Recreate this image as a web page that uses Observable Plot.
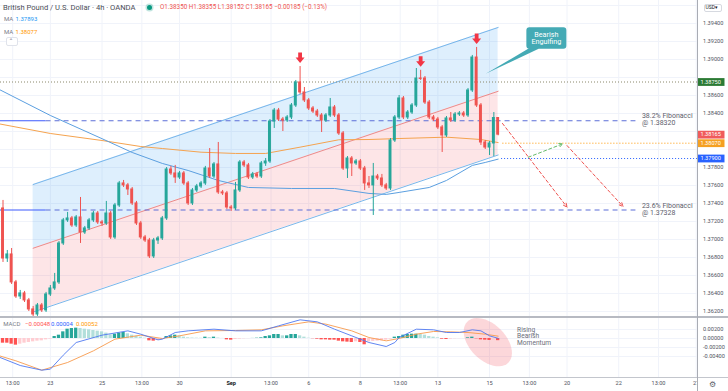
<!DOCTYPE html>
<html>
<head>
<meta charset="utf-8">
<script src="https://cdn.jsdelivr.net/npm/d3@7"></script>
<script src="https://cdn.jsdelivr.net/npm/@observablehq/plot@0.6"></script>
<style>
  html, body { margin: 0; padding: 0; background: #ffffff; }
  #chart { position: relative; width: 728px; height: 391px; overflow: hidden; background: #ffffff;
           font-family: Roboto, "Liberation Sans", sans-serif; }
  #chart svg { position: absolute; left: 0; }
  .t { position: absolute; white-space: nowrap; line-height: 1; }
</style>
</head>
<body>
<div id="chart"></div>
<script>
// ================= DATA =================
const symbolName = "British Pound / U.S. Dollar · 4h · OANDA";
const tradingDays = ["Aug 19","Aug 20","Aug 23","Aug 24","Aug 25","Aug 26","Aug 27","Aug 30","Aug 31",
  "Sep 1","Sep 2","Sep 3","Sep 6","Sep 7","Sep 8","Sep 9","Sep 10","Sep 13","Sep 14","Sep 15",
  "Sep 16","Sep 17","Sep 20","Sep 21","Sep 22","Sep 23","Sep 24","Sep 27"];
// 4h candles, index k = 1.. (k = 0 is Aug 19 00:00)
const open = [
1.37345,1.36789,1.36834,1.36523,1.36367,1.36401,1.36323,1.36223,1.36167,1.36267,
1.36212,1.36389,1.36456,1.36523,1.36956,1.37212,1.37234,1.37156,1.37245,1.37078,
1.37123,1.37212,1.37289,1.37190,1.37178,1.37289,1.37023,1.37378,1.37623,1.37601,
1.37556,1.37401,1.37178,1.37023,1.36989,1.36812,1.36989,1.37012,1.37234,1.37778,
1.37734,1.37689,1.37734,1.37623,1.37401,1.37545,1.37589,1.37623,1.37789,1.37700,
1.37834,1.37523,1.37512,1.37356,1.37345,1.37545,1.37856,1.37823,1.37689,1.37723,
1.37700,1.37845,1.37867,1.38311,1.38433,1.38333,1.38322,1.38356,1.38489,1.38745,
1.38634,1.38545,1.38456,1.38422,1.38378,1.38322,1.38378,1.38467,1.38378,1.38178,
1.37789,1.37900,1.37845,1.37867,1.37789,1.37623,1.37601,1.37700,1.37678,1.37601,
1.37567,1.38100,1.38356,1.38567,1.38356,1.38411,1.38489,1.38789,1.38789,1.38522,
1.38356,1.38333,1.38245,1.38156,1.38345,1.38322,1.38389,1.38400,1.38378,1.38656,
1.39022,1.38489,1.38078,1.38022,1.38067,1.38350];
const high = [
1.37434,1.36878,1.36900,1.36545,1.36434,1.36423,1.36345,1.36256,1.36289,1.36289,
1.36412,1.36489,1.36623,1.36978,1.37234,1.37301,1.37256,1.37267,1.37467,1.37145,
1.37234,1.37312,1.37312,1.37212,1.37423,1.37312,1.37401,1.37645,1.37656,1.37623,
1.37578,1.37423,1.37201,1.37045,1.37012,1.37012,1.37034,1.37256,1.37800,1.37812,
1.37823,1.37756,1.37756,1.37645,1.37567,1.37612,1.37645,1.37812,1.38011,1.37856,
1.38078,1.37545,1.37534,1.37378,1.37634,1.37878,1.37878,1.37845,1.37745,1.37745,
1.37867,1.37900,1.38333,1.38456,1.38456,1.38356,1.38378,1.38511,1.38767,1.38922,
1.38689,1.38567,1.38478,1.38445,1.38400,1.38400,1.38567,1.38489,1.38400,1.38200,
1.37922,1.37922,1.37889,1.37889,1.37812,1.37700,1.37845,1.37723,1.37723,1.37623,
1.38122,1.38378,1.38600,1.38589,1.38433,1.38511,1.38900,1.38880,1.38811,1.38545,
1.38378,1.38356,1.38267,1.38367,1.38411,1.38411,1.38422,1.38422,1.38678,1.39045,
1.39134,1.38511,1.38100,1.38089,1.38411,1.38355];
const low = [
1.36745,1.36745,1.36500,1.36345,1.36334,1.36300,1.36200,1.36134,1.36145,1.36189,
1.36189,1.36367,1.36434,1.36500,1.36934,1.37190,1.37134,1.37134,1.36956,1.37056,
1.37101,1.37190,1.37167,1.37145,1.37156,1.37001,1.37001,1.37356,1.37578,1.37489,
1.37378,1.37156,1.37001,1.36967,1.36789,1.36789,1.36945,1.36989,1.37212,1.37712,
1.37623,1.37667,1.37601,1.37378,1.37378,1.37523,1.37567,1.37601,1.37678,1.37678,
1.37501,1.37489,1.37334,1.37312,1.37323,1.37523,1.37800,1.37667,1.37667,1.37678,
1.37678,1.37812,1.37845,1.38234,1.38311,1.38200,1.38300,1.38333,1.38467,1.38611,
1.38522,1.38433,1.38400,1.38356,1.38189,1.38300,1.38356,1.38356,1.38156,1.37767,
1.37678,1.37700,1.37823,1.37767,1.37545,1.37567,1.37267,1.37656,1.37578,1.37545,
1.37545,1.38078,1.38333,1.38333,1.38333,1.38389,1.38467,1.38767,1.38500,1.38333,
1.38311,1.38222,1.37967,1.38134,1.38300,1.38300,1.38367,1.38356,1.38356,1.38634,
1.38467,1.38045,1.38000,1.37933,1.37922,1.38152];
const close = [
1.36789,1.36834,1.36523,1.36367,1.36401,1.36323,1.36223,1.36167,1.36267,1.36212,
1.36389,1.36456,1.36523,1.36956,1.37212,1.37234,1.37156,1.37245,1.37078,1.37123,
1.37212,1.37289,1.37190,1.37178,1.37289,1.37023,1.37378,1.37623,1.37601,1.37556,
1.37401,1.37178,1.37023,1.36989,1.36812,1.36989,1.37012,1.37234,1.37778,1.37734,
1.37689,1.37734,1.37623,1.37401,1.37545,1.37589,1.37623,1.37789,1.37700,1.37834,
1.37523,1.37512,1.37356,1.37345,1.37545,1.37856,1.37823,1.37689,1.37723,1.37700,
1.37845,1.37867,1.38311,1.38433,1.38333,1.38322,1.38356,1.38489,1.38745,1.38634,
1.38545,1.38456,1.38422,1.38378,1.38322,1.38378,1.38467,1.38378,1.38178,1.37789,
1.37900,1.37845,1.37867,1.37789,1.37623,1.37601,1.37700,1.37678,1.37601,1.37567,
1.38100,1.38356,1.38567,1.38356,1.38411,1.38489,1.38789,1.38784,1.38522,1.38356,
1.38333,1.38245,1.38156,1.38345,1.38322,1.38389,1.38400,1.38378,1.38656,1.39022,
1.38489,1.38078,1.38022,1.38067,1.38350,1.38165];

// moving averages (sampled at candle index)
const maBlueK = [0, 12, 24, 31, 38, 44, 51, 58, 68, 78, 86, 90, 93, 100, 104, 110, 113, 116];
const maBlueV = [1.38670,1.38378,1.38120,1.37967,1.37845,1.37767,1.37656,1.37578,1.37567,1.37567,1.37512,1.37501,1.37523,1.37578,1.37656,1.37823,1.37856,1.37893];
const maOrangeK = [0, 12, 24, 33, 38, 47, 55, 62, 70, 79, 86, 93, 104, 112, 116];
const maOrangeV = [1.38286,1.38178,1.38100,1.38033,1.38011,1.37970,1.37956,1.37956,1.38026,1.38108,1.38111,1.38122,1.38137,1.38111,1.38077];

// ascending channel (start/end)
const channelK = [8, 116];
const channelUpper = [1.37611, 1.39356];
const channelMid = [1.36903, 1.38647];
const channelLower = [1.36194, 1.37939];

// levels
const resistanceLevel = 1.38750;
const fibPct = ["38.2%", "23.6%"];
const fibLevels = [1.38320, 1.37328];
const tagPrices = [1.38750, 1.38165, 1.38070, 1.37900];
const orangeLevel = 1.38070;
const blueLevel = 1.37900;
const peakCandles = [70, 98, 111];

// projections (candle index, price)
const projK1 = [117, 123, 132];
const projP1 = [1.38290, 1.37914, 1.38044];
const projK2 = [132, 131, 145];
const projP2 = [1.37360, 1.38063, 1.37367];
const projDir = ["down", "up", "down"];

// MACD
const hist = [
-0.00104,-0.00104,-0.00126,-0.00148,-0.00126,-0.00104,-0.00089,-0.00074,-0.00059,-0.00052,-0.00030,-0.00015,
0.00044,0.00074,0.00148,0.00207,0.00222,0.00230,0.00222,0.00207,0.00193,0.00178,0.00163,0.00148,
0.00119,0.00081,0.00096,0.00119,0.00133,0.00104,0.00074,0.00052,0.00030,0.00007,
-0.00052,-0.00059,-0.00044,-0.00015,0.00044,0.00059,0.00074,0.00059,0.00030,
0.00015,0.00010,0.00007,0.00005,0.00030,0.00020,0.00030,0.00010,0.00002,
-0.00030,-0.00037,-0.00022,-0.00015,-0.00007,-0.00003,0.00002,0.00007,0.00015,
0.00044,0.00059,0.00089,0.00089,0.00059,0.00059,0.00089,0.00089,0.00059,0.00030,0.00007,
-0.00005,-0.00015,-0.00030,-0.00030,-0.00037,-0.00037,-0.00059,-0.00074,-0.00081,-0.00089,-0.00074,-0.00089,-0.00140,
-0.00074,-0.00067,-0.00059,-0.00052,-0.00037,-0.00015,
0.00030,0.00044,0.00074,0.00089,0.00096,0.00096,0.00089,0.00074,0.00044,0.00030,0.00015,
-0.00015,-0.00022,-0.00015,-0.00007,-0.00004,-0.00002,
0.00015,0.00030,
-0.00007,-0.00030,-0.00037,-0.00044,-0.00040,-0.00048];
const macdK = [0, 5, 10, 12, 15, 18, 24, 30, 33, 37, 38, 41, 44, 50, 55, 61, 65, 70, 74, 78, 82, 86, 90, 92, 93, 97, 101, 104, 107, 110, 112, 114, 116];
const macdV = [-0.00410,-0.00600,-0.00704,-0.00681,-0.00370,-0.00089,0.00074,0.00170,0.00096,-0.00030,-0.00015,0.00133,0.00170,0.00207,0.00170,0.00170,0.00281,0.00415,0.00370,0.00207,0.00059,-0.00089,-0.00178,-0.00089,0.00022,0.00207,0.00193,0.00133,0.00133,0.00193,0.00170,0.00059,0.00004];
const sigK = [0, 4, 10, 16, 22, 27, 33, 38, 42, 48, 55, 61, 66, 72, 76, 82, 86, 90, 93, 97, 101, 105, 109, 113, 116];
const sigV = [-0.00380,-0.00496,-0.00704,-0.00533,-0.00274,-0.00015,0.00074,0.00000,0.00059,0.00170,0.00178,0.00193,0.00281,0.00370,0.00319,0.00170,0.00022,-0.00052,0.00000,0.00096,0.00156,0.00148,0.00133,0.00096,0.00052];

// axes
const priceTicks = [1.362,1.364,1.366,1.368,1.370,1.372,1.374,1.376,1.378,1.380,1.382,1.384,1.386,1.388,1.390,1.392,1.394,1.396];
const macdTicks = [0.002, 0, -0.002, -0.004];
const timeTickDay = ["Aug 19","Aug 23","Aug 25","Aug 26","Aug 30","Sep 1","Sep 2","Sep 6","Sep 8","Sep 9","Sep 13","Sep 15","Sep 16","Sep 20","Sep 22","Sep 23","Sep 27"];
const timeTickHour = [13,0,0,13,0,0,13,0,0,13,0,0,13,0,0,13,0];
const timeTickLabel = ["13:00","23","25","13:00","30","Sep","13:00","6","8","13:00","13","15","13:00","20","22","13:00","27"];

// annotations (data-space anchors)
const calloutText = "Bearish\nEngulfing";
const calloutAt = {k: 113.1, p: 1.38841};
const noteText = "Rising\nBearish\nMomentum";
const noteAt = {k: 120.4, v: 0.00050};
const ellipseAt = {k: 113.6, v: -0.00082};

// ================= STYLE / LAYOUT =================
const UP = "#26a69a", DOWN = "#ef5350", GRID = "#f0f3fa", AXT = "#50535e";
const tagColors = ["#2b7a34", "#f05b5b", "#f5a021", "#2962ff"];
const X_DOMAIN = [0.418, 162.3];
const Y_TOP = 1.3965556, Y_BOTTOM = 1.3965556 - 317 / 9000;
const CANDLES_PER_DAY = 6, HOURS_PER_CANDLE = 4;
const FIB_SOLID_END = 11, FIB_END = 148, LEVEL_START = 116.8;
const fmt5 = d3.format(".5f");
const fmtAxis = v => fmt5(v).replace("\u2212", "-");

// ================= DERIVED TABLES =================
const candles = open.map((o, i) => ({k: i + 1, o, h: high[i], l: low[i], c: close[i]}));
const maBlue = maBlueK.map((k, i) => ({k, p: maBlueV[i]}));
const maOrange = maOrangeK.map((k, i) => ({k, p: maOrangeV[i]}));
const channel = channelK.map((k, i) => ({k, upper: channelUpper[i], mid: channelMid[i], lower: channelLower[i]}));
const fibRows = fibLevels.map((p, i) => ({p, pct: fibPct[i]}));
const tags = tagPrices.map((p, i) => ({p, color: tagColors[i]}));
// axis labels that are not hidden by a price tag or by the top edge
const priceLabels = priceTicks.filter(t => t < Y_TOP - 0.0012 && tagPrices.every(p => Math.abs(p - t) > 0.00075));
const projections = projK1.map((k, i) => ({k1: k, p1: projP1[i], k2: projK2[i], p2: projP2[i],
  color: projDir[i] === "down" ? "#ef5350" : "#66bb6a"}));
const peaks = peakCandles.map(k => candles[k - 1]);
const timeTicks = timeTickDay.map((d, i) => ({
  k: tradingDays.indexOf(d) * CANDLES_PER_DAY + timeTickHour[i] / HOURS_PER_CANDLE,
  label: timeTickLabel[i]}));
const histRows = hist.map((v, i) => ({k: i + 1, v, prev: i ? hist[i - 1] : v}));
const macdLine = macdK.map((k, i) => ({k, v: macdV[i]}));
const sigLine = sigK.map((k, i) => ({k, v: sigV[i]}));

// custom symbols
const downArrow = {draw(ctx) {
  ctx.moveTo(-1.9, -5.5); ctx.lineTo(1.9, -5.5); ctx.lineTo(1.9, -0.5); ctx.lineTo(4.5, -0.5);
  ctx.lineTo(0, 5); ctx.lineTo(-4.5, -0.5); ctx.lineTo(-1.9, -0.5); ctx.closePath();
}};
const tagSym = {draw(ctx) { ctx.rect(0.5, -3.9, 26.5, 7.8); }};
const calloutSym = {draw(ctx) {
  const x0 = 40.7, y0 = -46.6, x1 = 80.7, y1 = -25, r = 3;
  ctx.moveTo(x0 + r, y0); ctx.lineTo(x1 - r, y0); ctx.arcTo(x1, y0, x1, y0 + r, r);
  ctx.lineTo(x1, y1 - r); ctx.arcTo(x1, y1, x1 - r, y1, r);
  ctx.lineTo(53, y1); ctx.lineTo(0, 0); ctx.lineTo(42.5, y1);
  ctx.lineTo(x0 + r, y1); ctx.arcTo(x0, y1, x0, y1 - r, r);
  ctx.lineTo(x0, y0 + r); ctx.arcTo(x0, y0, x0 + r, y0, r); ctx.closePath();
}};
const ellipseSym = {draw(ctx) {
  const a = 29, b = 18, th = 45 * Math.PI / 180;
  for (let i = 0; i <= 48; i++) {
    const t = i / 48 * 2 * Math.PI;
    const x = a * Math.cos(t) * Math.cos(th) - b * Math.sin(t) * Math.sin(th);
    const y = a * Math.cos(t) * Math.sin(th) + b * Math.sin(t) * Math.cos(th);
    if (i === 0) ctx.moveTo(x, y); else ctx.lineTo(x, y);
  }
  ctx.closePath();
}};

const chart = document.getElementById("chart");
const FONT = "Roboto, 'Liberation Sans', sans-serif";

// ================= MAIN PANE =================
const main = Plot.plot({
  width: 728, height: 317,
  marginLeft: 0, marginRight: 31, marginTop: 0, marginBottom: 0,
  style: {fontFamily: FONT, background: "transparent", overflow: "visible"},
  x: {domain: X_DOMAIN, axis: null},
  y: {domain: [Y_BOTTOM, Y_TOP], axis: null},
  color: {type: "identity"},
  marks: [
    Plot.ruleX(timeTicks, {x: "k", stroke: GRID}),
    Plot.ruleY(priceTicks, {stroke: GRID}),
    Plot.areaY(channel, {x: "k", y1: "mid", y2: "upper", fill: "#2196f3", fillOpacity: 0.15}),
    Plot.areaY(channel, {x: "k", y1: "lower", y2: "mid", fill: "#f23645", fillOpacity: 0.13}),
    Plot.line(channel, {x: "k", y: "upper", stroke: "#6aaee8", strokeWidth: 0.9}),
    Plot.line(channel, {x: "k", y: "lower", stroke: "#6aaee8", strokeWidth: 0.9}),
    Plot.line(channel, {x: "k", y: "mid", stroke: "#e88080", strokeWidth: 0.9}),
    Plot.ruleY([resistanceLevel], {stroke: "#8a876a", strokeWidth: 1, strokeDasharray: "1,2"}),
    Plot.ruleY(fibRows, {y: "p", x1: X_DOMAIN[0], x2: FIB_SOLID_END, stroke: "#3d5afe", strokeWidth: 1.1}),
    Plot.ruleY(fibRows, {y: "p", x1: FIB_SOLID_END, x2: FIB_END, stroke: "#5c6fd8", strokeWidth: 1.1, strokeDasharray: "5,4"}),
    Plot.text(fibRows, {x: FIB_END, y: "p", text: d => `${d.pct} Fibonacci\n@ ${fmt5(d.p)}`,
      textAnchor: "start", dx: 6, dy: -1, fontSize: 7, lineHeight: 1, fill: "#5d606b"}),
    Plot.ruleY([orangeLevel], {x1: LEVEL_START + 0.3, x2: X_DOMAIN[1], stroke: "#ff9800", strokeWidth: 1, strokeDasharray: "1,2"}),
    Plot.ruleY([blueLevel], {x1: LEVEL_START, x2: X_DOMAIN[1], stroke: "#2962ff", strokeWidth: 1, strokeDasharray: "1,2"}),
    Plot.line(maOrange, {x: "k", y: "p", stroke: "#f5a34f", strokeWidth: 1}),
    Plot.line(maBlue, {x: "k", y: "p", stroke: "#5b9fe0", strokeWidth: 1}),
    Plot.ruleX(candles, {x: "k", y1: "l", y2: "h", stroke: d => d.c >= d.o ? UP : DOWN, strokeWidth: 1}),
    Plot.rect(candles, {x1: d => d.k - 0.34, x2: d => d.k + 0.34,
      y1: d => Math.min(d.o, d.c), y2: d => Math.max(d.o, d.c),
      fill: d => d.c >= d.o ? UP : DOWN, insetTop: -0.5, insetBottom: -0.5}),
    Plot.dot(peaks, {x: "k", y: "h", symbol: downArrow, fill: "#f23645", stroke: "none", dy: -8.5}),
    Plot.arrow(projections, {x1: "k1", y1: "p1", x2: "k2", y2: "p2", stroke: "color", strokeWidth: 1,
      strokeDasharray: "3,2.5", headLength: 6, headAngle: 50}),
    Plot.dot([calloutAt], {x: "k", y: "p", symbol: calloutSym, fill: "#44aab5", stroke: "none"}),
    Plot.text([calloutAt], {x: "k", y: "p", text: () => calloutText, dx: 60.7, dy: -35.8,
      fill: "#ffffff", fontSize: 7.2, lineHeight: 1.05}),
    Plot.text(priceLabels, {y: d => d, frameAnchor: "right", dx: 5.5, textAnchor: "start",
      text: d => fmtAxis(d), fill: AXT, fontSize: 5.6}),
    Plot.dot(tags, {y: "p", frameAnchor: "right", symbol: tagSym, fill: "color", stroke: "none"}),
    Plot.text(tags, {y: "p", frameAnchor: "right", dx: 3, textAnchor: "start",
      text: d => fmt5(d.p), fill: "#ffffff", fontSize: 5.6})
  ]
});
main.style.top = "0px";
chart.appendChild(main);

// ================= MACD PANE =================
const histColor = d => d.v >= 0 ? (d.v >= d.prev ? "#26a69a" : "#b2dfdb") : (d.v <= d.prev ? "#ff5252" : "#ffcdd2");
const macd = Plot.plot({
  width: 728, height: 73,
  marginLeft: 0, marginRight: 31, marginTop: 0, marginBottom: 14,
  style: {fontFamily: FONT, background: "transparent", overflow: "visible"},
  x: {domain: X_DOMAIN, axis: null},
  y: {domain: [-39 / 4500, 20 / 4500], axis: null},
  color: {type: "identity"},
  marks: [
    Plot.ruleX(timeTicks, {x: "k", stroke: GRID}),
    Plot.ruleY(macdTicks, {stroke: GRID}),
    Plot.dot([ellipseAt], {x: "k", y: "v", symbol: ellipseSym, fill: "#f23645", fillOpacity: 0.2, stroke: "none"}),
    Plot.rect(histRows, {x1: d => d.k - 0.38, x2: d => d.k + 0.38, y1: 0, y2: "v", fill: histColor}),
    Plot.line(sigLine, {x: "k", y: "v", stroke: "#f79a4c", strokeWidth: 0.9}),
    Plot.line(macdLine, {x: "k", y: "v", stroke: "#4f78f0", strokeWidth: 0.9}),
    Plot.text([noteAt], {x: "k", y: "v", text: () => noteText, textAnchor: "start", fontSize: 6.6,
      lineHeight: 1.02, fill: "#6b6e79"}),
    Plot.text(macdTicks, {y: d => d, frameAnchor: "right", dx: 5.5, textAnchor: "start",
      text: d => fmtAxis(d), fill: AXT, fontSize: 5.6}),
    Plot.text(timeTicks, {x: "k", frameAnchor: "bottom", dy: 7, text: "label", fill: AXT, fontSize: 5.6,
      filter: d => d.label !== "Sep"}),
    Plot.text(timeTicks, {x: "k", frameAnchor: "bottom", dy: 7, text: "label", fill: "#131722", fontSize: 5.6,
      fontWeight: "bold", filter: d => d.label === "Sep"})
  ]
});
macd.style.top = "318px";
chart.appendChild(macd);

// ================= CHROME / LEGENDS =================
function box(left, top, w, h, css) {
  const el = document.createElement("div");
  Object.assign(el.style, {position: "absolute", left: left + "px", top: top + "px", width: w + "px", height: h + "px"}, css || {});
  chart.appendChild(el); return el;
}
function txt(s, left, top, size, color, css) {
  const el = document.createElement("div");
  el.className = "t"; el.textContent = s;
  Object.assign(el.style, {left: left + "px", top: top + "px", fontSize: size + "px", color}, css || {});
  chart.appendChild(el); return el;
}
box(0, 316.3, 728, 1.5, {background: "#b7bac2"});
box(0, 377, 728, 1, {background: "#c3c6cd"});
box(697, 0, 1, 391, {background: "#a9acb4"});
box(698, 378, 30, 13, {background: "#ffffff"});
txt("\u2699", 709, 381, 8, "#5d606b", {fontFamily: "DejaVu Sans"});
// USD box
box(704, 4, 17.5, 7.5, {background: "#ffffff", border: "1px solid #d6d9e0", borderRadius: "2px", boxSizing: "border-box"});
txt("USD\u25BE", 705.5, 5.3, 5, "#131722");

// legend
const last = candles[candles.length - 1];
const prevClose = candles[candles.length - 2].c;
const chg = last.c - prevClose;
txt(symbolName, 3, 3.6, 7.6, "#4a4d57");
box(146.5, 4.6, 5, 5, {background: "#089981", borderRadius: "50%", boxShadow: "0 0 0 1.5px rgba(8,153,129,0.25)"});
txt(`O${fmt5(last.o)} H${fmt5(last.h)} L${fmt5(last.l)} C${fmt5(last.c)} ${fmt5(chg)} (${d3.format(".2f")(chg / prevClose * 100).replace("-", "\u2212")}%)`,
  160, 4.3, 6.3, "#ef5350");
txt("MA", 4, 16.3, 6, "#787b86");
txt(fmt5(maBlueV[maBlueV.length - 1]), 15.5, 16.3, 6, "#2196f3");
txt("MA", 4, 28.7, 6, "#787b86");
txt(fmt5(maOrangeV[maOrangeV.length - 1]), 15.5, 28.7, 6, "#ff9800");
box(5.5, 37, 12.5, 8.5, {border: "1px solid #e0e3eb", borderRadius: "2px", boxSizing: "border-box", background: "#fff"});
txt("\u02C4", 9.3, 38.5, 7, "#50535e", {fontFamily: "DejaVu Sans"});
// MACD legend
txt("MACD", 3.3, 320.5, 6, "#787b86");
txt(fmt5(hist[hist.length - 1]), 25, 320.5, 6, "#ff5252");
txt(fmt5(macdV[macdV.length - 1]), 51, 320.5, 6, "#2962ff");
txt(fmt5(sigV[sigV.length - 1]), 76, 320.5, 6, "#ff9800");
</script>
</body>
</html>
